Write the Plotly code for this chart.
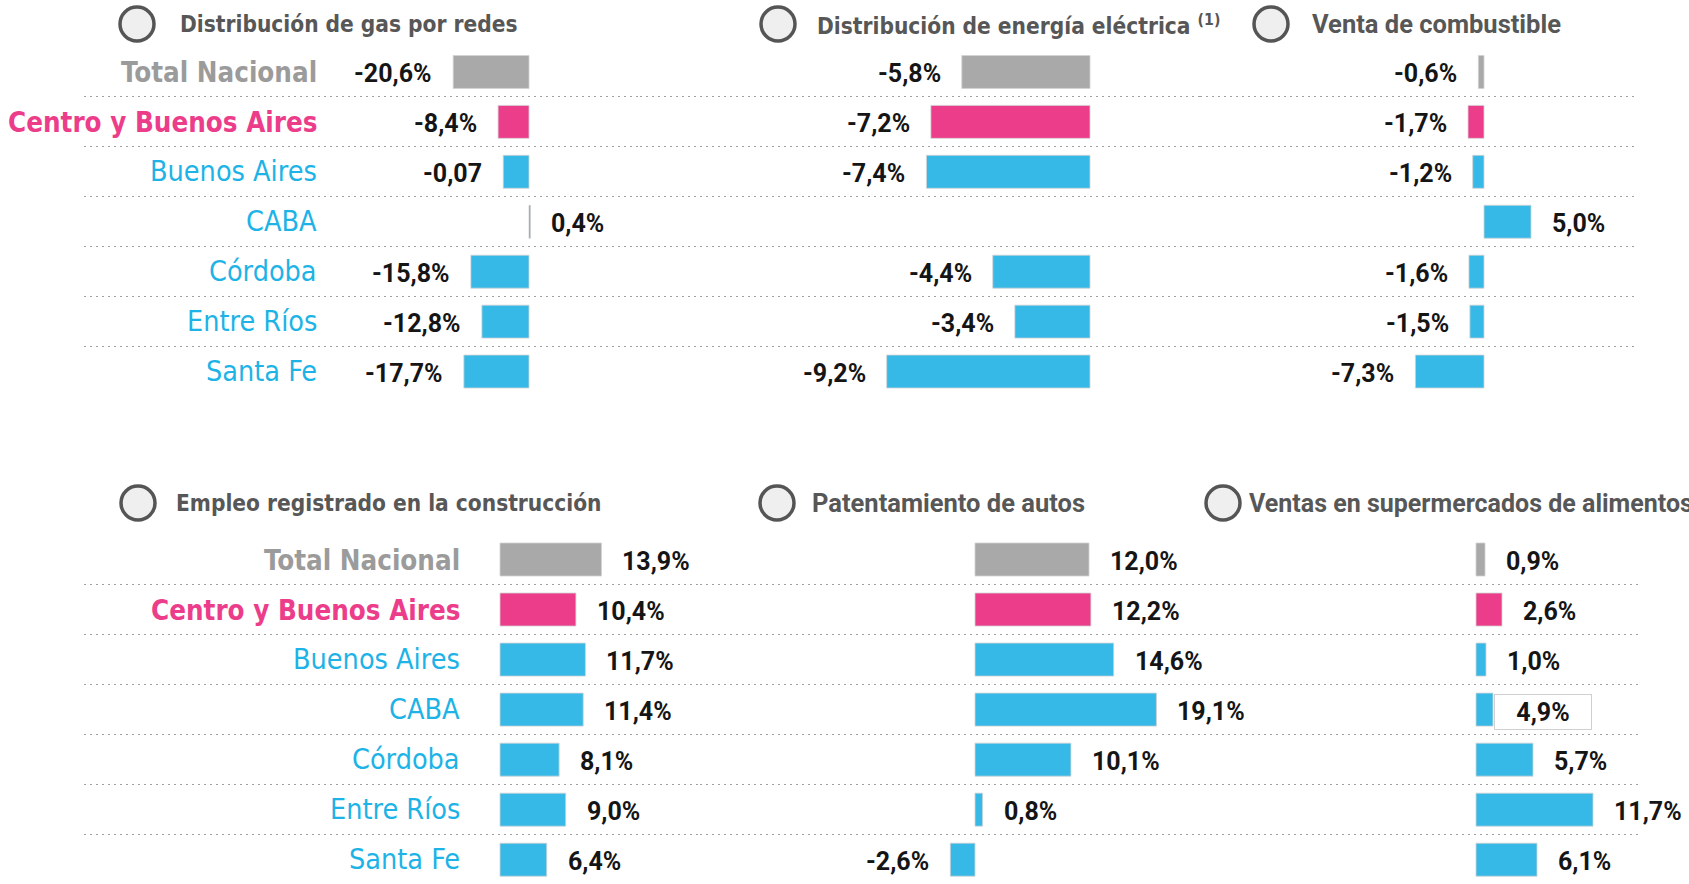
import plotly.graph_objects as go

W, H = 1689, 884

# ---------------- data ----------------
categories = ["Total Nacional", "Centro y Buenos Aires", "Buenos Aires", "CABA",
              "Córdoba", "Entre Ríos", "Santa Fe"]

gas_values = [-20.6, -8.4, -7.0, 0.4, -15.8, -12.8, -17.7]
gas_labels = ["-20,6%", "-8,4%", "-0,07", "0,4%", "-15,8%", "-12,8%", "-17,7%"]

elec_values = [-5.8, -7.2, -7.4, None, -4.4, -3.4, -9.2]
elec_labels = ["-5,8%", "-7,2%", "-7,4%", "", "-4,4%", "-3,4%", "-9,2%"]

fuel_values = [-0.6, -1.7, -1.2, 5.0, -1.6, -1.5, -7.3]
fuel_labels = ["-0,6%", "-1,7%", "-1,2%", "5,0%", "-1,6%", "-1,5%", "-7,3%"]

constr_values = [13.9, 10.4, 11.7, 11.4, 8.1, 9.0, 6.4]
constr_labels = ["13,9%", "10,4%", "11,7%", "11,4%", "8,1%", "9,0%", "6,4%"]

autos_values = [12.0, 12.2, 14.6, 19.1, 10.1, 0.8, -2.6]
autos_labels = ["12,0%", "12,2%", "14,6%", "19,1%", "10,1%", "0,8%", "-2,6%"]

super_values = [0.9, 2.6, 1.0, 1.7, 5.7, 11.7, 6.1]
super_labels = ["0,9%", "2,6%", "1,0%", "4,9%", "5,7%", "11,7%", "6,1%"]

titles = ["Distribución de gas por redes",
          "Distribución de energía eléctrica <sup>(1)</sup>",
          "Venta de combustible",
          "Empleo registrado en la construcción",
          "Patentamiento de autos",
          "Ventas en supermercados de alimentos"]

# ---------------- styling ----------------
GRAY, PINK, CYAN = "#A9A9A9", "#EC3D8B", "#37B9E8"
bar_colors = [GRAY, PINK, CYAN, CYAN, CYAN, CYAN, CYAN]
label_colors = ["#9B9B9B", "#EC3D8B", "#1DB3E6", "#1DB3E6", "#1DB3E6", "#1DB3E6", "#1DB3E6"]
COND = "DejaVu Sans Condensed, Liberation Sans Narrow, Arial Narrow, sans-serif"
VAL_FONT = "Roboto, Arial, sans-serif"
TITLE_GRAY = "#575757"


def fx(px):
    return px / W


def fy(py):
    return 1 - py / H


# panel geometry: (values, labels, row, domain px, zero px, px per unit, title, circle x, title x, title font, title size)
panels = [
    (gas_values, gas_labels, 0, (84, 640), 529, 3.68, titles[0], 137, 178, COND, 22.5),
    (elec_values, elec_labels, 0, (640, 1200), 1090, 22.1, titles[1], 778, 815, COND, 22.5),
    (fuel_values, fuel_labels, 0, (1200, 1638), 1484, 9.4, titles[2], 1271, 1310, VAL_FONT, 25.5),
    (constr_values, constr_labels, 1, (84, 700), 500, 7.3, titles[3], 138, 174, COND, 22.5),
    (autos_values, autos_labels, 1, (700, 1180), 975, 9.5, titles[4], 777, 810, VAL_FONT, 25.5),
    (super_values, super_labels, 1, (1180, 1638), 1476, 10.0, titles[5], 1223, 1247, VAL_FONT, 25),
]

# rows: top panel centre rows 72 -> 371.5 ; bottom 559.5 -> 859.7
row_geom = {
    0: dict(domain=[fy(396.5), fy(47)], range=[6.5, -0.5], title_y=24, label_x=319),
    1: dict(domain=[0, fy(534.5)], range=[6.0 + (884 - 859.7) / 50.03, -0.5], title_y=503, label_x=462),
}

fig = go.Figure()
layout = dict(width=W, height=H, margin=dict(l=0, r=0, t=0, b=0),
              paper_bgcolor="white", plot_bgcolor="white", showlegend=False,
              bargap=0.34)
annotations = []
shapes = []

for k, (vals, labs, row, dom, zero, scale, title, cx, tx, tfont, tsize) in enumerate(panels):
    n = k + 1
    xa = "x" if n == 1 else f"x{n}"
    ya = "y" if n == 1 else f"y{n}"
    rng = [(dom[0] - zero) / scale, (dom[1] - zero) / scale]
    rg = row_geom[row]
    layout["xaxis" if n == 1 else f"xaxis{n}"] = dict(
        domain=[fx(dom[0]), fx(dom[1])], range=rng, anchor=ya,
        showgrid=False, zeroline=False, showticklabels=False, showline=False,
        fixedrange=True)
    layout["yaxis" if n == 1 else f"yaxis{n}"] = dict(
        domain=rg["domain"], range=rg["range"], anchor=xa,
        showgrid=False, zeroline=False, showticklabels=False, showline=False,
        minor=dict(tickvals=[0.5, 1.5, 2.5, 3.5, 4.5, 5.5], showgrid=True,
                   gridcolor="#A0A0A0", griddash="2px,4px", gridwidth=1.3),
        fixedrange=True)
    cols = list(bar_colors)
    if k == 0:
        cols[3] = "#6E9BB3"
    fig.add_trace(go.Bar(
        x=vals, y=list(range(len(categories))), orientation="h",
        marker=dict(color=cols, line=dict(color="rgba(210,210,210,0.8)", width=1)),
        width=0.66, xaxis=xa, yaxis=ya, hoverinfo="skip"))

    for i, (v, lab) in enumerate(zip(vals, labs)):
        if v is None or lab == "":
            continue
        ann = dict(x=v, y=i, xref=xa, yref=ya, text=f"<b>{lab}</b>", showarrow=False,
                   font=dict(family=VAL_FONT, size=25, color="#151515"),
                   xanchor="left" if v >= 0 else "right",
                   xshift=19 if v >= 0 else -19, yshift=-2)
        if k == 5 and i == 3:
            ann.update(xshift=1, width=96, height=34, align="center",
                       bgcolor="white", bordercolor="#D0D0D0", borderwidth=1, borderpad=0)
        annotations.append(ann)

    # title: circle + text
    r = 17
    shapes.append(dict(type="circle", xref="paper", yref="paper",
                       x0=fx(cx - r), x1=fx(cx + r), y0=fy(rg["title_y"] + r), y1=fy(rg["title_y"] - r),
                       line=dict(color="#555555", width=3.5), fillcolor="#EFEFEF"))
    annotations.append(dict(x=fx(tx), y=fy(rg["title_y"]), xref="paper", yref="paper",
                            text=f"<b>{title}</b>", showarrow=False, xanchor="left", yanchor="middle",
                            font=dict(family=tfont, size=tsize, color=TITLE_GRAY)))

# category labels (left of first panel in each row)
for row, ya in ((0, "y"), (1, "y4")):
    for i, cat in enumerate(categories):
        txt = f"<b>{cat}</b>" if i < 2 else cat
        annotations.append(dict(x=fx(row_geom[row]["label_x"]), y=i, xref="paper", yref=ya,
                                text=txt, showarrow=False, xanchor="right", yanchor="middle",
                                font=dict(family=COND, size=27.5 if i < 2 else 28.5,
                                          color=label_colors[i])))

layout["annotations"] = annotations
layout["shapes"] = shapes
fig.update_layout(**layout)

fig.write_html("out.html", config={"displayModeBar": False},
               post_script="document.body.style.margin='0';document.body.style.overflow='hidden';")
